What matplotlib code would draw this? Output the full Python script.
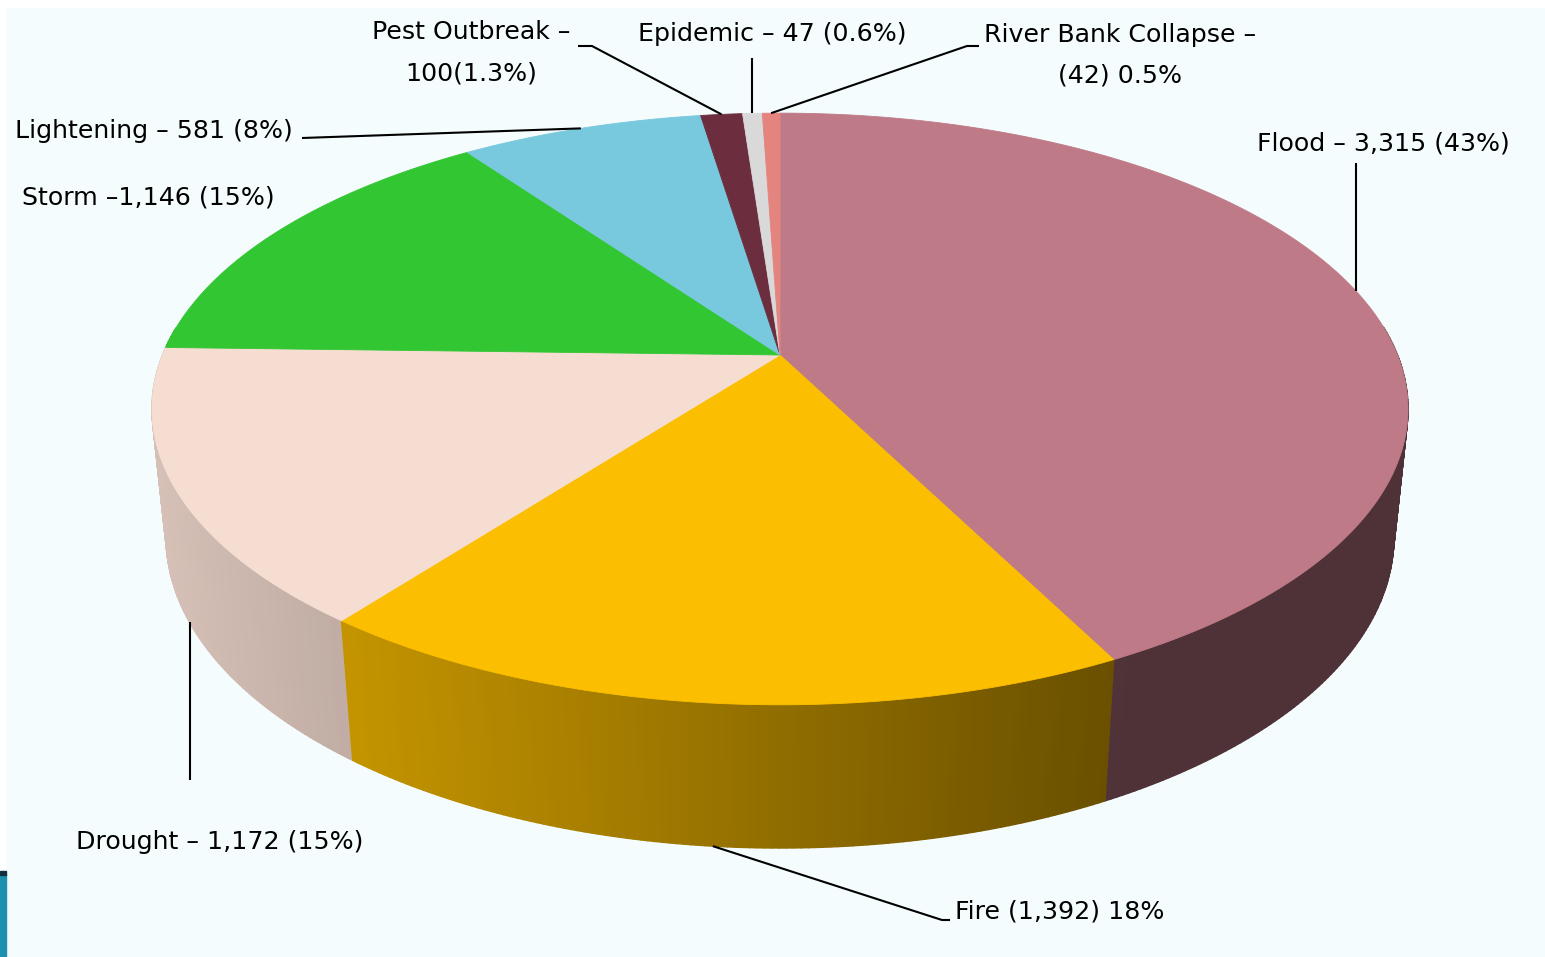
import numpy as np
import matplotlib.pyplot as plt
from matplotlib.patches import Polygon, Rectangle
from matplotlib.collections import PolyCollection
from matplotlib.colors import to_rgb

# disaster counts, clockwise from twelve o'clock
categories = ['Flood', 'Fire', 'Drought', 'Storm', 'Lightening',
              'Pest Outbreak', 'Epidemic', 'River Bank Collapse']
counts = [3315, 1392, 1172, 1146, 581, 100, 47, 42]
labels = ['Flood – 3,315 (43%)', 'Fire (1,392) 18%', 'Drought – 1,172 (15%)',
          'Storm –1,146 (15%)', 'Lightening – 581 (8%)',
          'Pest Outbreak –\n100(1.3%)', 'Epidemic – 47 (0.6%)',
          'River Bank Collapse –\n(42) 0.5%']
top_colors = ['#BE7A87', '#FBBE00', '#F6DDD2', '#33C633', '#78C8DE',
              '#6C2E3F', '#D9D9D9', '#E4847F']

# perspective of the disc: top face and bottom face (pixel units)
CX = 780
TOP_Y0, TOP_A, TOP_B, TOP_K = 355, 617.5, 286, 0.1824
BOT_Y0, BOT_A, BOT_B, BOT_K = 481.9, 604, 300.8, 0.1784


def top_xy(t):
    X, Z = np.cos(t), np.sin(t)
    d = 1 + TOP_K * Z
    return CX + TOP_A * X / d, TOP_Y0 - TOP_B * Z / d


def bot_xy(t):
    X, Z = np.cos(t), np.sin(t)
    d = 1 + BOT_K * Z
    return CX + BOT_A * X / d, BOT_Y0 - BOT_B * Z / d


def wall_shade(color, x):
    # side lit from the left, darker to the right
    f = np.clip(0.87 - 0.45 * (x - 160) / 950, 0.41, 0.88)
    return tuple(c * f for c in to_rgb(color))


fig = plt.figure(figsize=(15.45, 9.57), dpi=100)
fig.patch.set_facecolor('white')
ax = fig.add_axes([0, 0, 1, 1])
ax.set_xlim(0, 1545)
ax.set_ylim(957, 0)
ax.axis('off')

ax.add_patch(Rectangle((6, 8), 1545, 960, color='#F5FCFD', zorder=0))
ax.add_patch(Rectangle((0, 874), 6, 90, color='#1B91AE', zorder=0))
ax.add_patch(Rectangle((0, 871), 6, 4, color='#10303A', zorder=0))

total = float(sum(counts))
fracs = np.array(counts) / total
bounds = np.pi / 2 - 2 * np.pi * np.concatenate([[0], np.cumsum(fracs)])

# side walls, back to front
quads, cols, depth = [], [], []
for i in range(len(counts)):
    t0, t1 = bounds[i], bounds[i + 1]
    n = max(int(abs(t0 - t1) / 0.01), 2)
    ts = np.linspace(t0, t1, n + 1)
    for a, b in zip(ts[:-1], ts[1:]):
        m = 0.5 * (a + b)
        if np.sin(m) > 0.1:
            continue
        xa, ya = top_xy(a)
        xb, yb = top_xy(b)
        xc, yc = bot_xy(b)
        xd, yd = bot_xy(a)
        quads.append([(xa, ya), (xb, yb), (xc, yc), (xd, yd)])
        cols.append(wall_shade(top_colors[i], 0.25 * (xa + xb + xc + xd)))
        depth.append(np.sin(m))
order = np.argsort(depth)[::-1]
walls = PolyCollection([quads[j] for j in order],
                       facecolors=[cols[j] for j in order],
                       edgecolors=[cols[j] for j in order],
                       linewidths=1.0, zorder=2)
ax.add_collection(walls)

# top faces
for i in range(len(counts)):
    ts = np.linspace(bounds[i], bounds[i + 1], 200)
    xs, ys = top_xy(ts)
    pts = [(CX, TOP_Y0)] + list(zip(xs, ys))
    ax.add_patch(Polygon(pts, closed=True, facecolor=top_colors[i],
                         edgecolor=top_colors[i], lw=0.6, zorder=3))

# labels and leader lines
mids = 0.5 * (bounds[:-1] + bounds[1:])
label_pos = {
    'Flood': (1257, 144, 'left'),
    'Fire': (955, 912, 'left'),
    'Drought': (76, 842, 'left'),
    'Storm': (22, 197, 'left'),
    'Lightening': (15, 131, 'left'),
    'Pest Outbreak': (471, 32, 'center'),
    'Epidemic': (638, 34, 'left'),
    'River Bank Collapse': (1120, 35, 'center'),
}
for name, text in zip(categories, labels):
    x, y, ha = label_pos[name]
    for k, line in enumerate(text.split('\n')):
        ax.text(x, y + 41 * k, line, ha=ha, va='center', fontsize=18.2,
                family='DejaVu Sans', color='black', zorder=5)

lk = dict(color='black', lw=1.5, zorder=4, solid_capstyle='butt')
ax_, ay_ = top_xy(mids[0])
ax.plot([ax_, ax_], [163, ay_], **lk)
bx_, by_ = bot_xy(mids[1])
ax.plot([950, 942, bx_], [920, 920, by_], **lk)
bx_, by_ = bot_xy(mids[2])
ax.plot([bx_, bx_], [780, by_], **lk)
ax_, ay_ = top_xy(mids[4])
ax.plot([302, ax_], [138, ay_], **lk)
ax_, ay_ = top_xy(mids[5])
ax.plot([578, 592, ax_], [46, 46, ay_], **lk)
ax_, ay_ = top_xy(mids[6])
ax.plot([ax_, ax_], [58, ay_], **lk)
ax_, ay_ = top_xy(mids[7])
ax.plot([979, 967, ax_], [46, 46, ay_], **lk)

fig.savefig('out.png', dpi=100, facecolor=fig.get_facecolor())
